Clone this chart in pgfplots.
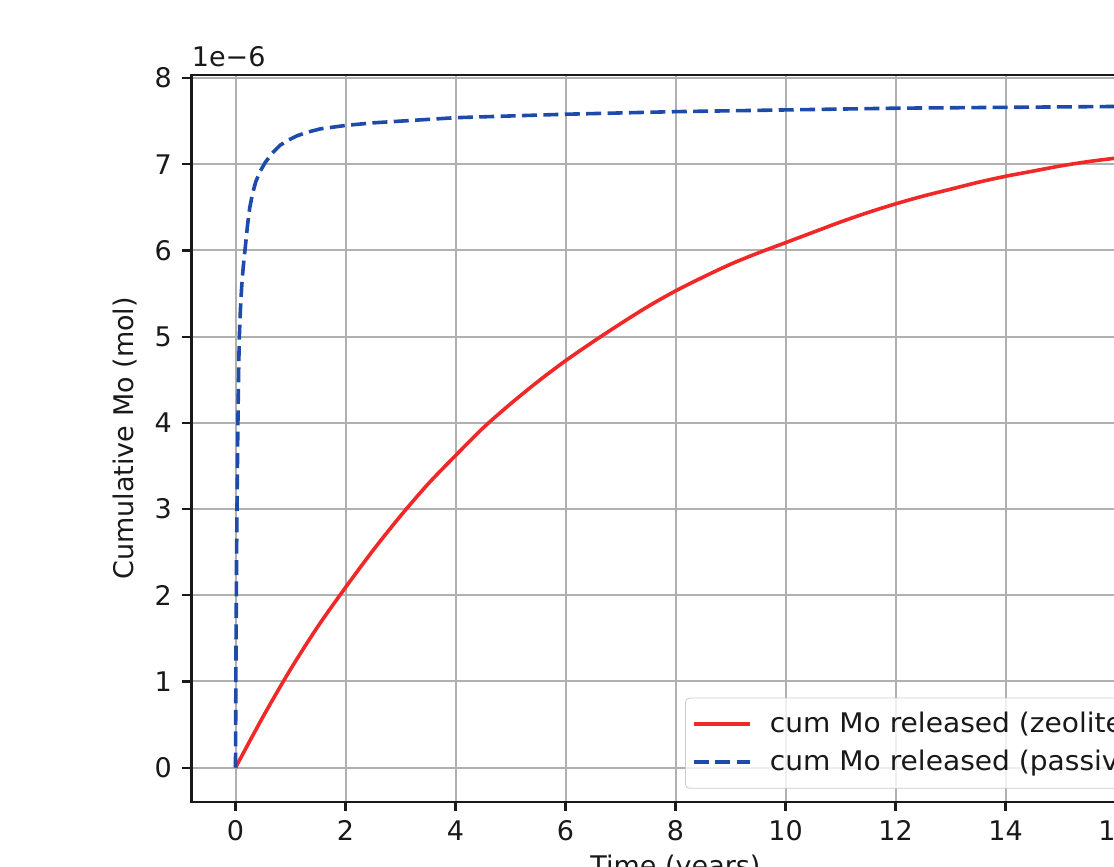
\documentclass[border=0pt]{standalone}
\usepackage{fontspec}
\setmainfont{DejaVu Sans}
\newfontfamily\legfont[FakeStretch=1.04]{DejaVu Sans}
\usepackage{pgfplots}
\pgfplotsset{compat=1.18}
\definecolor{myred}{RGB}{240,40,40}
\definecolor{myblue}{RGB}{30,75,170}
\newcommand{\ff}{\fontsize{13.5}{16}\selectfont}
\begin{document}
\begin{tikzpicture}
\useasboundingbox (0,0) rectangle (557pt,-433.5pt);
\begin{axis}[
  name=ax,
  at={(95.75pt,-400.85pt)}, anchor=south west,
  scale only axis, width=484pt, height=363.35pt,
  xmin=-0.8, xmax=16.8, ymin=-0.395, ymax=8.035,
  xtick={0,2,...,16}, ytick={0,1,...,8},
  scaled y ticks=false,
  /pgf/number format/assume math mode=true,
  tick label style={font=\ff, text=black!90},
  xticklabel style={inner sep=0pt, yshift=-4.6pt},
  yticklabel style={inner sep=0pt, xshift=-5pt},
  xlabel={Time (years)}, ylabel={Cumulative Mo (mol)},
  every axis x label/.style={at={([yshift=-26.65pt]rel axis cs:0.5,0)}, anchor=north, inner sep=0pt, font=\ff, text=black!90},
  every axis y label/.style={at={([xshift=-33pt]rel axis cs:0,0.5)}, anchor=center, rotate=90, inner sep=0pt, font=\ff, text=black!90},
  grid=major, grid style={line width=1pt, color=black!31},
  axis line style={line width=1.1pt, black!90},
  tick style={line width=1.1pt, black!90},
  major tick length=4.7pt, tick align=outside,
  xtick pos=bottom, ytick pos=left,
  legend cell align=left,
  legend image code/.code={\draw[#1] (0pt,0pt) -- (28pt,0pt);},
  legend style={draw=black!20, rounded corners=2pt, fill=white, fill opacity=0.8, text opacity=1,
    font=\legfont\ff, text=black!90, inner xsep=3.2pt, inner ysep=7.2pt, row sep=7.2pt, column sep=9.2pt,
    nodes={inner sep=0pt},
    at={(1,0)}, anchor=south east, xshift=-2.95pt, yshift=6.5pt},
]
\addplot[myred, line width=1.8pt, smooth] coordinates {
(0,0) (0.5,0.59) (1,1.14) (1.5,1.64) (2,2.09) (2.5,2.52) (3,2.92) (3.5,3.29) (4,3.62)
(4.5,3.94) (5,4.22) (5.5,4.48) (6,4.72) (6.5,4.94) (7,5.15) (7.5,5.35) (8,5.53)
(8.5,5.69) (9,5.84) (9.5,5.97) (10,6.09) (10.5,6.21) (11,6.33) (11.5,6.44) (12,6.54)
(12.5,6.63) (13,6.71) (13.5,6.79) (14,6.86) (14.5,6.92) (15,6.98) (15.5,7.03) (16,7.07)
};
\addlegendentry{cum Mo released (zeolite)}
\addplot[myblue, line width=1.8pt, dash pattern=on 7.5pt off 3.2pt] coordinates {
(0,0) (0.01,1.5) (0.02,2.5) (0.03,3.2) (0.04,3.8) (0.05,4.3) (0.06,4.7) (0.07,5.0)
(0.085,5.25) (0.1,5.45) (0.12,5.65) (0.14,5.8) (0.16,5.93) (0.18,6.05) (0.22,6.3)
(0.26,6.5) (0.31,6.66) (0.37,6.8) (0.45,6.92) (0.54,7.02) (0.67,7.13) (0.81,7.22)
(0.96,7.28) (1.12,7.33) (1.3,7.37) (1.54,7.41) (2,7.45) (2.5,7.48) (3,7.50)
(4,7.54) (5,7.56) (6,7.58) (8,7.61) (10,7.63) (12,7.65) (14,7.66) (16,7.67)
};
\addlegendentry{cum Mo released (passive)}
\end{axis}
\node[anchor=base west, inner sep=0pt, font=\ff, text=black!90] at ([yshift=4.15pt]ax.north west) {1e−6};
\end{tikzpicture}
\end{document}
